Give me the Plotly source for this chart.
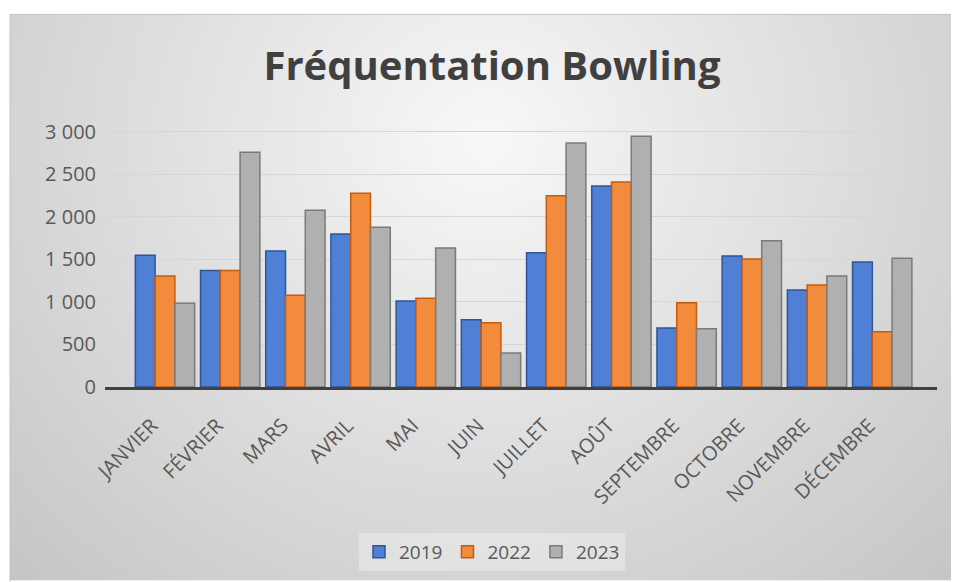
import base64, struct, zlib
import plotly.graph_objects as go

months = ["JANVIER", "FÉVRIER", "MARS", "AVRIL", "MAI", "JUIN", "JUILLET",
          "AOÛT", "SEPTEMBRE", "OCTOBRE", "NOVEMBRE", "DÉCEMBRE"]
v2019 = [1550, 1370, 1600, 1800, 1010, 790, 1580, 2365, 695, 1540, 1140, 1470]
v2022 = [1305, 1370, 1080, 2280, 1045, 755, 2250, 2410, 990, 1505, 1200, 650]
v2023 = [985, 2760, 2080, 1880, 1635, 400, 2870, 2950, 685, 1720, 1305, 1515]
series_names = ["2019", "2022", "2023"]
ytick_vals = [0, 500, 1000, 1500, 2000, 2500, 3000]
ytick_text = ["0", "500", "1 000", "1 500", "2 000", "2 500", "3 000"]

# page has an 8px body margin; figure sized so that it fits the 959x582 window
OFF = 8
W, H = 959 - OFF, 582 - OFF
L, R, T, B = 105 - OFF, 22, 120 - OFF, 194
pw, ph = W - L - R, H - T - B


def gradient_png(w=120, h=72):
    rows = b""
    for j in range(h):
        y = j / (h - 1)
        row = bytearray([0])
        for i in range(w):
            x = i / (w - 1)
            dx = (x - 0.5) / 0.5
            dy = (y - 0.22) / 0.78
            d = min(1.0, ((dx * dx + dy * dy) / 2) ** 0.5)
            v = int(round(248 - 50 * d))
            row.append(v)
        rows += bytes(row)

    def chunk(t, data):
        c = struct.pack(">I", len(data)) + t + data
        return c + struct.pack(">I", zlib.crc32(t + data) & 0xffffffff)

    png = b"\x89PNG\r\n\x1a\n"
    png += chunk(b"IHDR", struct.pack(">IIBBBBB", w, h, 8, 0, 0, 0, 0))
    png += chunk(b"IDAT", zlib.compress(rows, 9))
    png += chunk(b"IEND", b"")
    return "data:image/png;base64," + base64.b64encode(png).decode()


fills = ["#4f80d6", "#f28b3c", "#b0b0b0"]
lines = ["#2f5597", "#c55a11", "#7a7a7a"]

fig = go.Figure()
for name, vals, fc, lc in zip(series_names, [v2019, v2022, v2023], fills, lines):
    fig.add_trace(go.Bar(x=months, y=vals, name=name,
                         marker=dict(color=fc, line=dict(color=lc, width=1.5))))

x0px, y0px = 10 - OFF, 14 - OFF
fig.add_layout_image(dict(
    source=gradient_png(), xref="paper", yref="paper",
    x=(x0px - L) / pw, y=(H - B - y0px) / ph,
    sizex=(W - x0px) / pw, sizey=(H - y0px) / ph,
    sizing="stretch", layer="below", xanchor="left", yanchor="top"))

fig.add_shape(type="rect", xref="paper", yref="paper",
              x0=(x0px - L) / pw, x1=(W + 5 - L) / pw,
              y0=-(B + 5) / ph, y1=(H - B - y0px) / ph,
              line=dict(color="#c4c4c4", width=1), layer="below")

fig.update_layout(
    width=W, height=H,
    margin=dict(l=L, r=R, t=T, b=B),
    paper_bgcolor="white", plot_bgcolor="rgba(0,0,0,0)",
    barmode="group", bargap=0.09, bargroupgap=0.0,
    font=dict(family="Open Sans", color="#595959"),
    title=dict(text="<b>Fréquentation Bowling</b>", x=(492 - OFF) / W,
               y=1 - (66 - OFF) / H,
               xanchor="center", yanchor="middle", xref="container", yref="container",
               font=dict(size=40, color="#404040", family="Open Sans")),
    xaxis=dict(range=[-0.92, 11.84], showgrid=False, showline=True,
               linecolor="#404040", linewidth=3, ticks="", tickangle=-45,
               ticklabelstandoff=16, ticklabelshift=-13,
               tickfont=dict(size=20, color="#595959"), fixedrange=True),
    yaxis=dict(range=[0, 3140], tickvals=ytick_vals, ticktext=ytick_text,
               showgrid=True, gridcolor="#d6d6d6", gridwidth=1, zeroline=False,
               showline=False, ticks="", ticklabelstandoff=8,
               tickfont=dict(size=20, color="#595959")),
    legend=dict(orientation="h", x=(492 - 105) / pw, xanchor="center",
                y=-(552 - 388) / ph, yanchor="middle",
                bgcolor="rgba(255,255,255,0.3)", font=dict(size=19, color="#595959"),
                itemwidth=30, tracegroupgap=0),
    showlegend=True,
)

fig.write_html("out.html")
